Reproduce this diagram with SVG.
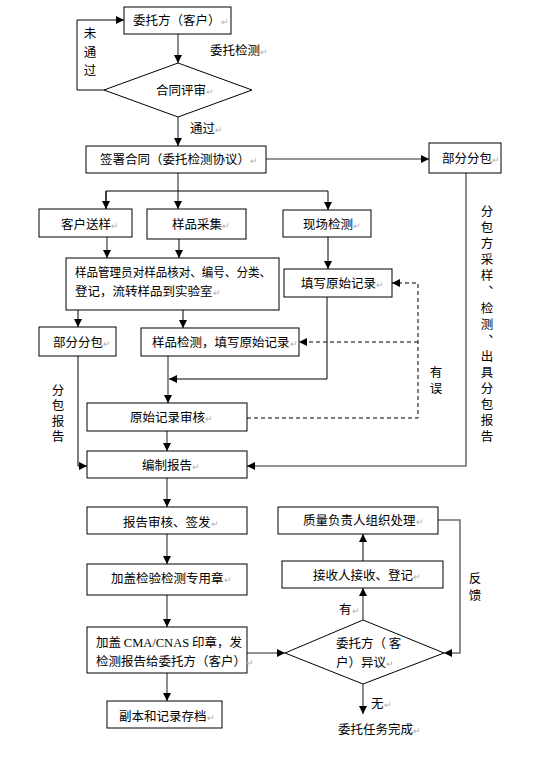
<svg xmlns="http://www.w3.org/2000/svg" width="553" height="760" viewBox="0 0 553 760">
<style>
.box{fill:#fff;stroke:#000;stroke-width:1}
.t{font-family:"Noto Sans CJK SC","Noto Sans CJK JP",sans-serif;font-size:12.5px;fill:#000}
.v{writing-mode:vertical-rl}
.p{fill:#b0b0b0;font-size:9px}
.s{font-family:"Liberation Serif",serif}
.c{fill:none;stroke:#000;stroke-width:1}
.g{fill:none;stroke:#707070;stroke-width:1.6}
.d{fill:none;stroke:#000;stroke-width:1;stroke-dasharray:4,3}
</style>
<defs>
<marker id="a" markerWidth="9" markerHeight="8" refX="8" refY="4" orient="auto" markerUnits="userSpaceOnUse">
<path d="M0,0 L8,4 L0,8 z" fill="#000"/>
</marker>
</defs>
<rect width="553" height="760" fill="#fff"/>
<g id="connectors">
<path class="g" d="M178,34 V63" marker-end="url(#a)"/>
<path class="c" d="M104,90 H77 V20 H124" marker-end="url(#a)"/>
<path class="g" d="M178,117 V146" marker-end="url(#a)"/>
<path class="g" d="M266,159 H429" marker-end="url(#a)"/>
<path class="g" d="M178,173 V209" marker-end="url(#a)"/>
<path class="c" d="M106,209 V191 H328 V210" marker-end="url(#a)"/>
<path class="c" d="M106,191 V209" marker-end="url(#a)"/>
<path class="g" d="M107,237 V258" marker-end="url(#a)"/>
<path class="c" d="M179,239 V258" marker-end="url(#a)"/>
<path class="c" d="M328,237 V269" marker-end="url(#a)"/>
<path class="c" d="M78,310 V327" marker-end="url(#a)"/>
<path class="c" d="M183,310 V328" marker-end="url(#a)"/>
<path class="c" d="M327,297 V379 H169" marker-end="url(#a)"/>
<path class="g" d="M168,356 V403" marker-end="url(#a)"/>
<path class="c" d="M78,356 V466 H87" marker-end="url(#a)"/>
<path class="g" d="M167,431 V451" marker-end="url(#a)"/>
<path class="g" d="M466,173 V466 H247" marker-end="url(#a)"/>
<path class="d" d="M247,418 H418 V283 H392" marker-end="url(#a)"/>
<path class="d" d="M418,342 H299" marker-end="url(#a)"/>
<path class="g" d="M167,478 V507" marker-end="url(#a)"/>
<path class="g" d="M167,534 V564" marker-end="url(#a)"/>
<path class="g" d="M167,595 V627" marker-end="url(#a)"/>
<path class="g" d="M167,673 V701" marker-end="url(#a)"/>
<path class="g" d="M247,653 H285" marker-end="url(#a)"/>
<path class="g" d="M363,620 V588" marker-end="url(#a)"/>
<path class="c" d="M363,561 V534" marker-end="url(#a)"/>
<path class="g" d="M438,520 H460 V653 H444" marker-end="url(#a)"/>
<path class="g" d="M363,684 V714" marker-end="url(#a)"/>
</g>
<g id="labels">
<text class="t" x="210" y="55">委托检测<tspan class="p">↵</tspan></text>
<text class="t v" x="90" y="27" style="letter-spacing:6px">未通过</text>
<text class="t" x="190" y="133">通过<tspan class="p">↵</tspan></text>
<text class="t v" x="487" y="205" style="letter-spacing:3.6px">分包方采样、检测、出具分包报告</text>
<text class="t v" x="58" y="384" style="letter-spacing:2.9px">分包报告</text>
<text class="t v" x="436" y="366" style="letter-spacing:3.5px">有误</text>
<text class="t v" x="475" y="572" style="letter-spacing:4.5px">反馈</text>
<text class="t" x="339" y="614">有<tspan class="p">↵</tspan></text>
<text class="t" x="371" y="708">无<tspan class="p">↵</tspan></text>
<text class="t" x="338" y="734">委托任务完成<tspan class="p">↵</tspan></text>
</g>
<g id="n1"><rect class="box" x="124" y="7" width="107" height="27"/><text class="t" x="133" y="25">委托方（客户）<tspan class="p">↵</tspan></text></g>
<g id="n2"><polygon class="box" points="178,63 252,90 178,117 104,90"/><text class="t" x="156" y="95">合同评审<tspan class="p">↵</tspan></text></g>
<g id="n3"><rect class="box" x="86" y="146" width="180" height="27"/><text class="t" x="100" y="164">签署合同（委托检测协议）<tspan class="p">↵</tspan></text></g>
<g id="n4"><rect class="box" x="429" y="143" width="72" height="30"/><text class="t" x="442" y="163">部分分包<tspan class="p">↵</tspan></text></g>
<g id="n5"><rect class="box" x="39" y="209" width="93" height="28"/><text class="t" x="61" y="229">客户送样<tspan class="p">↵</tspan></text></g>
<g id="n6"><rect class="box" x="147" y="209" width="99" height="30"/><text class="t" x="172" y="229">样品采集<tspan class="p">↵</tspan></text></g>
<g id="n7"><rect class="box" x="283" y="210" width="88" height="27"/><text class="t" x="303" y="229">现场检测<tspan class="p">↵</tspan></text></g>
<g id="n8"><rect class="box" x="66" y="258" width="213" height="52"/><text class="t" x="75" y="277" textLength="196" lengthAdjust="spacingAndGlyphs">样品管理员对样品核对、编号、分类、</text><text class="t" x="75" y="296">登记，流转样品到实验室<tspan class="p">↵</tspan></text></g>
<g id="n9"><rect class="box" x="284" y="269" width="108" height="28"/><text class="t" x="301" y="288">填写原始记录<tspan class="p">↵</tspan></text></g>
<g id="n10"><rect class="box" x="39" y="327" width="77" height="29"/><text class="t" x="53" y="347">部分分包<tspan class="p">↵</tspan></text></g>
<g id="n11"><rect class="box" x="141" y="328" width="158" height="28"/><text class="t" x="152" y="347">样品检测，填写原始记录<tspan class="p">↵</tspan></text></g>
<g id="n12"><rect class="box" x="87" y="403" width="160" height="28"/><text class="t" x="130" y="422">原始记录审核<tspan class="p">↵</tspan></text></g>
<g id="n13"><rect class="box" x="87" y="451" width="160" height="27"/><text class="t" x="142" y="470">编制报告<tspan class="p">↵</tspan></text></g>
<g id="n14"><rect class="box" x="87" y="507" width="160" height="27"/><text class="t" x="123" y="527">报告审核、签发<tspan class="p">↵</tspan></text></g>
<g id="n15"><rect class="box" x="87" y="564" width="160" height="31"/><text class="t" x="111" y="583">加盖检验检测专用章<tspan class="p">↵</tspan></text></g>
<g id="n16"><rect class="box" x="87" y="627" width="160" height="46"/><text class="t" x="96" y="647">加盖 <tspan class="s">CMA/CNAS</tspan> 印章，发</text><text class="t" x="96" y="666">检测报告给委托方（客户）<tspan class="p">↵</tspan></text></g>
<g id="n17"><rect class="box" x="107" y="701" width="115" height="27"/><text class="t" x="119" y="721">副本和记录存档<tspan class="p">↵</tspan></text></g>
<g id="n18"><polygon class="box" points="363,620 444,653 363,684 285,653"/><text class="t"><tspan x="336" y="648">委托方（ 客</tspan><tspan x="336" y="667">户）异议</tspan><tspan class="p">↵</tspan></text></g>
<g id="n19"><rect class="box" x="282" y="561" width="161" height="27"/><text class="t" x="313" y="580">接收人接收、登记<tspan class="p">↵</tspan></text></g>
<g id="n20"><rect class="box" x="278" y="507" width="160" height="27"/><text class="t" x="303" y="525">质量负责人组织处理<tspan class="p">↵</tspan></text></g>
</svg>
